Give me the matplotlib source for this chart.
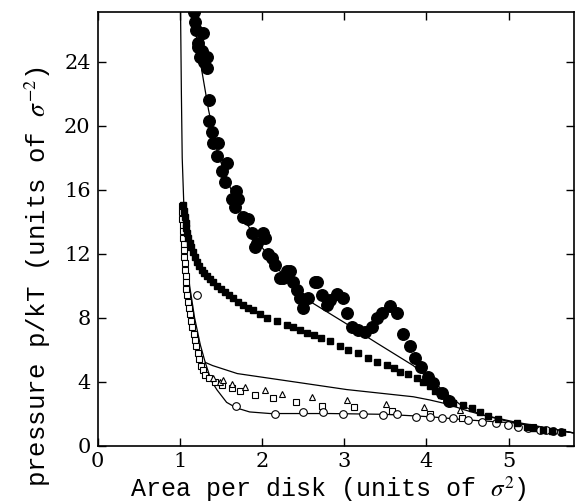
import matplotlib
matplotlib.use("Agg")
import matplotlib.pyplot as plt

# ---- data ----
filled_circle_x = [1.17,1.18,1.20,1.28,1.22,1.22,1.27,1.25,1.33,1.30,1.33,1.35,1.35,1.39,1.40,1.46,1.45,1.57,1.51,1.55,
                   1.69,1.63,1.71,1.67,1.77,1.83,1.88,2.01,2.04,1.94,1.91,2.07,2.12,2.16,2.31,2.22,2.34,2.25,2.38,2.42,
                   2.46,2.50,2.56,2.64,2.67,2.73,2.79,2.83,2.91,2.98,3.04,3.09,3.17,3.25,3.34,3.40,3.46,3.56,3.64,3.71,
                   3.80,3.86,3.94,4.02,4.08,4.19,4.28]
filled_circle_y = [27.1,26.5,26.0,25.8,25.2,24.9,24.7,24.3,24.3,24.0,23.6,21.6,20.3,19.6,18.9,18.9,18.1,17.7,17.2,16.5,
                   15.9,15.4,15.4,14.9,14.3,14.2,13.3,13.3,13.0,12.7,12.4,12.0,11.7,11.3,10.9,10.5,10.9,10.5,10.2,9.7,
                   9.2,8.6,9.2,10.2,10.2,9.4,8.8,9.1,9.5,9.2,8.3,7.4,7.2,7.1,7.4,8.0,8.3,8.7,8.3,7.0,
                   6.2,5.5,4.9,4.3,3.9,3.3,2.8]

filled_square_x = [1.04,1.05,1.06,1.07,1.08,1.09,1.10,1.12,1.14,1.16,1.18,1.21,1.24,1.27,1.30,1.33,1.37,1.41,1.45,1.50,
                   1.55,1.60,1.65,1.71,1.77,1.83,1.89,1.97,2.06,2.18,2.30,2.38,2.46,2.55,2.63,2.72,2.83,2.95,3.05,3.17,
                   3.29,3.40,3.52,3.61,3.68,3.77,3.88,3.96,4.04,4.11,4.18,4.25,4.32,4.44,4.55,4.65,4.75,4.87,5.10,5.22,
                   5.30,5.42,5.53,5.65]
filled_square_y = [15.05,14.7,14.3,13.9,13.6,13.3,13.0,12.7,12.4,12.1,11.8,11.5,11.2,11.0,10.8,10.6,10.4,10.2,10.0,9.8,
                   9.6,9.4,9.2,9.0,8.8,8.6,8.45,8.2,8.0,7.8,7.55,7.4,7.2,7.05,6.9,6.75,6.55,6.25,6.0,5.8,
                   5.5,5.25,5.05,4.85,4.6,4.45,4.2,4.0,3.7,3.4,3.15,2.9,2.65,2.55,2.35,2.1,1.85,1.65,1.4,1.15,
                   1.1,0.97,0.9,0.85]

open_square_x = [1.03,1.03,1.03,1.04,1.04,1.04,1.05,1.05,1.05,1.06,1.06,1.07,1.07,1.08,1.09,1.10,1.11,1.12,1.14,1.15,
                 1.17,1.18,1.20,1.22,1.24,1.26,1.28,1.31,1.35,1.43,1.51,1.63,1.73,1.91,2.13,2.41,2.73,3.12,3.58,4.04,
                 4.43,5.10,5.30]
open_square_y = [15.0,14.6,14.2,13.8,13.4,13.0,12.6,12.2,11.8,11.4,11.0,10.6,10.2,9.8,9.4,9.0,8.6,8.2,7.8,7.4,
                 7.0,6.6,6.2,5.8,5.4,5.0,4.7,4.4,4.2,4.0,3.8,3.6,3.4,3.15,2.95,2.7,2.5,2.4,2.15,2.0,
                 1.7,1.3,1.15]

open_triangle_x = [1.40,1.49,1.53,1.63,1.79,2.04,2.24,2.61,3.04,3.51,3.97,4.41]
open_triangle_y = [4.2,4.0,4.1,3.85,3.65,3.45,3.2,3.05,2.85,2.6,2.4,2.2]

open_circle_x = [1.21,1.69,2.16,2.50,2.74,2.98,3.23,3.47,3.64,3.87,4.04,4.19,4.32,4.51,4.68,4.85,4.99,5.11,5.23,5.38,
                 5.46,5.54,5.64]
open_circle_y = [9.4,2.5,2.0,2.1,2.1,2.0,2.0,1.9,2.0,1.8,1.8,1.7,1.7,1.6,1.5,1.4,1.3,1.15,1.1,1.0,
                 0.95,0.9,0.85]

fit_high_x = [1.16,1.22,1.27,1.35,1.46,1.60,1.80,2.00,2.25,2.62,3.00,3.40,3.84,4.10,4.40,4.65,5.00,5.40,5.80]
fit_high_y = [27.1,25.0,23.4,21.0,18.3,16.3,14.0,12.4,10.7,8.9,7.7,6.4,5.0,3.9,2.6,1.95,1.5,1.1,0.78]

fit_mid_x = [1.01,1.02,1.03,1.05,1.08,1.12,1.18,1.25,1.31,1.40,1.49,1.70,2.10,2.50,3.03,3.84,4.04,4.25,4.45,4.65,5.05,5.80]
fit_mid_y = [27.1,22.0,18.0,15.0,12.0,10.0,8.0,6.3,5.2,5.0,4.85,4.5,4.2,3.9,3.5,3.05,2.85,2.6,2.25,1.95,1.5,0.78]

fit_low_x = [1.31,1.38,1.45,1.57,1.69,1.85,2.10,2.83,3.50,4.04,4.50,5.10,5.80]
fit_low_y = [5.2,4.1,3.5,2.7,2.35,2.1,2.0,2.0,1.95,1.8,1.6,1.4,0.78]

x_ticks = [0, 1, 2, 3, 4, 5]
y_ticks = [0, 4, 8, 12, 16, 20, 24]

# ---- plot ----
plt.rcParams['mathtext.fontset'] = 'stix'
fig = plt.figure(figsize=(5.75, 5.03), dpi=100)
ax = fig.add_axes([0.1696, 0.1143, 0.8294, 0.8612])

lw = 0.9
ax.plot(fit_high_x, fit_high_y, color='black', lw=lw, zorder=2)
ax.plot(fit_mid_x, fit_mid_y, color='black', lw=lw, zorder=2)
ax.plot(fit_low_x, fit_low_y, color='black', lw=lw, zorder=2)

ax.plot(open_square_x, open_square_y, 's', ms=4.6, mfc='white', mec='black', mew=0.8, ls='none', zorder=3)
ax.plot(open_triangle_x, open_triangle_y, '^', ms=4.5, mfc='white', mec='black', mew=0.8, ls='none', zorder=3)
ax.plot(open_circle_x, open_circle_y, 'o', ms=5.5, mfc='white', mec='black', mew=0.8, ls='none', zorder=3)
ax.plot(filled_square_x, filled_square_y, 's', ms=4.5, color='black', ls='none', zorder=4)
ax.plot(filled_circle_x, filled_circle_y, 'o', ms=8.3, color='black', ls='none', zorder=4)

ax.set_xlim(0, 5.8)
ax.set_ylim(0, 27.1)
ax.set_xticks(x_ticks)
ax.set_yticks(y_ticks)
ax.set_xticklabels([str(t) for t in x_ticks])
ax.set_yticklabels([str(t) for t in y_ticks])
ax.tick_params(direction='in', length=6, width=1.0, top=True, right=True,
               labelsize=15, pad=5)
for lab in ax.get_xticklabels() + ax.get_yticklabels():
    lab.set_family('DejaVu Serif')
for sp in ax.spines.values():
    sp.set_linewidth(1.2)

ax.set_xlabel(r'Area per disk (units of $\sigma^2$)', family='Liberation Mono', fontsize=18)
ax.set_ylabel(r'pressure p/kT (units of $\sigma^{-2}$)', family='Liberation Mono', fontsize=18.5)
ax.xaxis.label.set_verticalalignment('baseline')
ax.xaxis.set_label_coords(0.485, -0.119)
ax.yaxis.set_label_coords(-0.093, 0.39)

fig.savefig('out.png', dpi=100)
